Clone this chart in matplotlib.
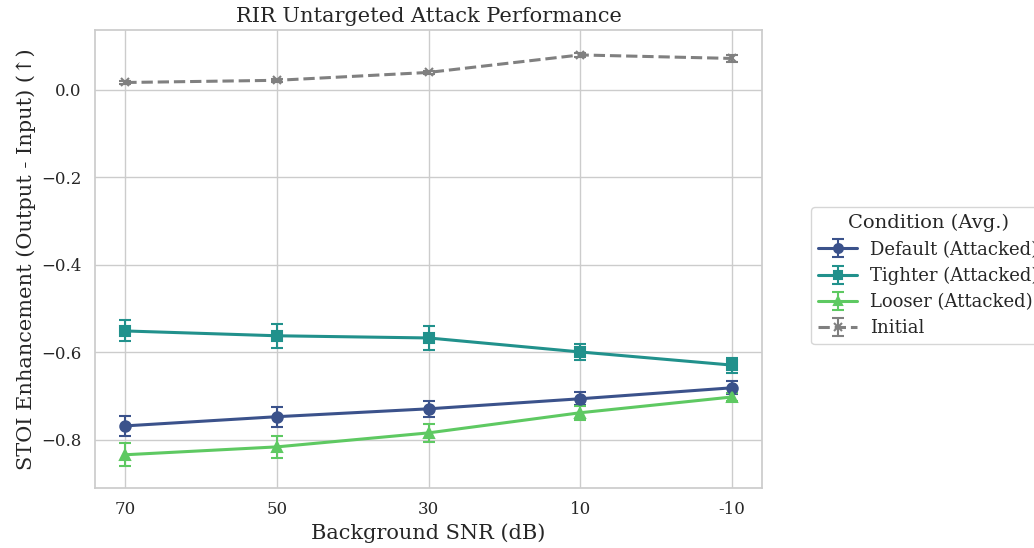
import matplotlib
matplotlib.use("Agg")
import matplotlib.pyplot as plt
import seaborn as sns
import numpy as np

sns.set_theme(style="whitegrid")
plt.rcParams['font.family'] = ['DejaVu Serif']

snr_labels = ["70", "50", "30", "10", "-10"]
default_mean = [-0.768, -0.747, -0.729, -0.706, -0.681]
default_err = [0.023, 0.023, 0.019, 0.015, 0.015]
tighter_mean = [-0.551, -0.562, -0.567, -0.599, -0.629]
tighter_err = [0.024, 0.027, 0.028, 0.018, 0.017]
looser_mean = [-0.834, -0.816, -0.784, -0.738, -0.702]
looser_err = [0.026, 0.025, 0.020, 0.016, 0.010]
initial_mean = [0.017, 0.022, 0.040, 0.080, 0.072]
initial_err = [0.004, 0.004, 0.004, 0.005, 0.008]

fig = plt.figure(figsize=(10.34, 5.48), dpi=100)
ax = fig.add_axes([95/1034, 1-488/548, (762-95)/1034, (488-30)/548])
x = np.arange(len(snr_labels))

series = [
    ("Default (Attacked)", default_mean, default_err, "#3b528b", "o", "-", 7.5),
    ("Tighter (Attacked)", tighter_mean, tighter_err, "#21918c", "s", "-", 7.5),
    ("Looser (Attacked)", looser_mean, looser_err, "#5ec962", "^", "-", 7.5),
    ("Initial", initial_mean, initial_err, "#808080", "x", "--", 6),
]
for label, m, e, c, mk, ls, ms in series:
    ax.errorbar(x, m, yerr=e, label=label, color=c, marker=mk, linestyle=ls,
                linewidth=2.2, markersize=ms, capsize=4, elinewidth=1.5,
                capthick=1.5, markeredgewidth=1.5)

ax.set_xticks(x)
ax.set_xticklabels(snr_labels)
ax.set_xlim(-0.2, 4.2)
ax.set_ylim(-0.91, 0.137)
ax.set_yticks([0.0, -0.2, -0.4, -0.6, -0.8])
ax.set_yticklabels(["0.0", "\u22120.2", "\u22120.4", "\u22120.6", "\u22120.8"])
ax.tick_params(axis='both', labelsize=12)
ax.set_xlabel("Background SNR (dB)", fontsize=15)
ax.set_ylabel("STOI Enhancement (Output - Input) (\u2191)", fontsize=15)
ax.set_title("RIR Untargeted Attack Performance", fontsize=15)
for s in ax.spines.values():
    s.set_color("#cccccc")

leg = ax.legend(title="Condition (Avg.)", loc="upper left",
                bbox_to_anchor=(1.0735, 0.6135), borderaxespad=0,
                fontsize=13, title_fontsize=14, markerscale=0.85,
                frameon=True, handlelength=2.17, handletextpad=0.72,
                labelspacing=0.45)
fig.savefig("out.png", dpi=100)
